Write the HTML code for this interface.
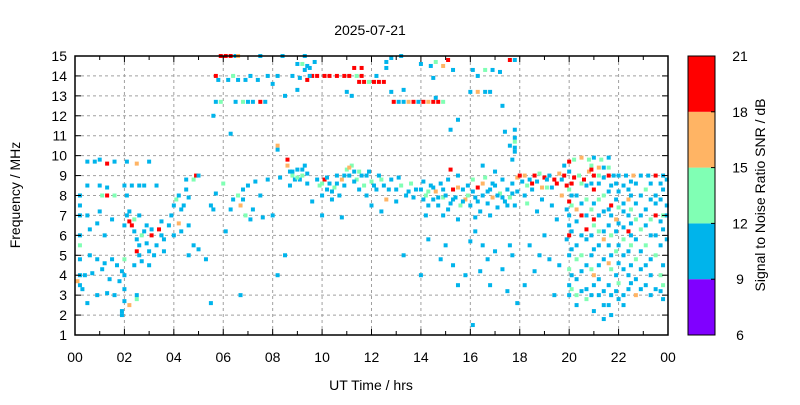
<!DOCTYPE html>
<html><head><meta charset="utf-8"><style>
body{margin:0;background:#fff;}
svg text{font-family:"Liberation Sans",sans-serif;fill:#000;}
</style></head><body>
<svg id="chart" width="800" height="400" xmlns="http://www.w3.org/2000/svg">
<rect width="800" height="400" fill="#fff"/>
<text x="370" y="35" font-size="14" text-anchor="middle">2025-07-21</text>
<g id="grid"></g>
<g id="marks"></g>
<g id="axes"></g>
<g id="cbar"></g>
<text x="371" y="390" font-size="14" text-anchor="middle">UT Time / hrs</text>
<text x="20" y="195" font-size="14" text-anchor="middle" transform="rotate(-90 20 195)">Frequency / MHz</text>
<text x="765" y="195" font-size="14" text-anchor="middle" transform="rotate(-90 765 195)">Signal to Noise Ratio SNR / dB</text>
</svg>
<script>
const xTickLabels=["00","02","04","06","08","10","12","14","16","18","20","22","00"];
const yTicks=[1,2,3,4,5,6,7,8,9,10,11,12,13,14,15];
const cbarTicks=[6,9,12,15,18,21];
const points=[
[0.2,3.5,10],[0.2,4,10],[0.2,4.8,10],[0.2,5.5,13],[0.2,6,10],[0.2,7,10],[0.2,7.5,10],[0.2,8,10],[0.1,3.7,16],[0.3,3.3,10],
[0.5,9.7,10],[0.8,9.7,10],[1.0,9.8,10],[1.3,9.6,19],[1.6,9.7,10],[2.1,9.7,10],[2.5,9.6,16],[3.0,9.7,10],
[0.5,8.5,10],[1.0,8.5,10],[1.3,8.4,10],[2.0,8.5,10],[2.3,8.5,10],[2.6,8.5,10],[2.8,8.5,10],[3.3,8.5,10],
[1.1,8.0,13],[1.3,8.0,19],[1.6,8.0,13],[2.1,8,10],[0.5,7.0,10],[1.0,7.2,10],[0.9,6.6,10],[0.6,6.3,10],[1.5,6.8,10],[1.2,6.0,10],
[0.6,5.0,10],[0.9,4.8,10],[1.2,4.6,10],[1.5,4.8,10],[1.7,4.5,10],[1.9,4.2,10],[1.8,3.7,10],[2.0,3.3,10],[1.6,3.0,10],[1.3,3.1,10],[0.9,3.0,10],[0.5,2.6,10],[1.9,2.2,10],[1.9,2.0,10],[2.0,2.7,10],[2.2,2.5,16],[2.5,2.8,13],[2.5,3.0,10],
[0.4,4.0,10],[0.7,4.1,10],[1.1,4.3,10],[1.4,3.8,10],[2.0,4.0,10],[2.0,4.8,13],[2.4,4.5,10],
[2.0,6.5,10],[2.1,7.0,10],[2.2,7.2,10],[2.3,6.5,19],[2.4,6.8,13],[2.4,6.2,10],[2.5,5.8,10],[2.5,5.2,19],[2.6,5.0,10],[2.6,5.5,10],[2.7,6.0,13],[2.7,4.7,10],[2.8,6.2,10],[2.9,5.6,10],[2.9,6.5,10],[3.0,5.2,10],[3.1,6.0,19],[3.1,6.3,10],[3.2,5.0,10],[3.3,5.5,10],[3.4,6.3,19],[3.5,6.0,10],[3.6,5.2,10],[3.6,5.8,10],[3.8,6.5,10],[3.9,7.0,10],[4.0,7.5,10],[4.0,6.0,10],[4.1,7.8,13],[4.2,8.0,10],[4.2,6.6,16],[4.3,7.3,10],[4.4,7.5,10],[4.3,6.2,10],[4.5,8.3,10],[4.6,6.5,10],[4.6,5.0,10],[4.8,5.5,10],[4.6,7.9,10],[4.8,8.8,13],[4.9,9.0,19],[5.0,9.0,10],[5.3,4.8,10],[5.0,5.3,10],[4.5,8.8,10],
[2.2,6.7,19],[2.6,7.0,10],[3.5,6.7,10],[3.0,4.5,10],
[5.9,15,19],[6.1,15,19],[6.3,15,19],[6.5,15,10],[6.6,15,16],[7.5,15,10],[8.4,15,10],[9.3,15,10],
[9.0,14.6,10],[9.2,14.6,13],[9.4,14.5,10],[9.7,14.7,10],[9.3,14.3,10],[9.5,14.4,10],
[5.7,14,19],[5.8,13.8,10],[6.2,13.8,10],[6.4,14,13],[6.6,13.8,10],[6.9,13.8,10],[7.1,14,10],[7.4,13.8,10],[7.8,14,10],[8.2,14,10],[8.8,14,10],[9.1,13.9,10],[9.4,13.8,19],[9.6,14,19],[9.8,14,19],[10.1,14,19],[10.3,14,19],[10.6,14,19],[10.9,14,19],[11.1,14,19],[11.4,14,13],[11.6,14,19],[9.5,14.0,10],[8.0,13.6,10],[9.0,13.3,10],
[5.7,12.7,10],[5.9,12.7,13],[6.5,12.7,10],[6.8,12.7,13],[7.0,12.7,10],[7.2,12.7,10],[7.5,12.7,19],[7.7,12.7,10],[8.5,13.0,10],
[5.6,12,10],[6.3,11.1,10],[8.2,10.5,16],[8.2,10.3,10],[6.0,8.6,13],[5.7,8.1,10],[5.5,7.5,10],[5.6,7.3,10],[5.5,2.6,10],
[6.1,6.2,10],[6.3,7.3,10],[6.4,7.8,10],[6.6,8.0,13],[6.7,7.5,16],[6.8,7.8,10],[6.8,8.3,10],[6.9,7.0,13],[7.0,8.5,10],[7.1,6.8,10],[7.2,7.3,10],[7.5,8.0,10],[7.3,8.7,10],[7.6,6.9,10],[8.0,7.0,10],[8.2,4.0,10],[6.7,3.0,10],[8.3,8.9,10],[8.5,5.0,10],[7.8,8.8,10],
[8.6,9.8,19],[8.6,9.5,16],[8.7,9.2,10],[8.8,9.0,13],[8.9,8.8,10],[9.0,9.3,10],[9.1,8.8,10],[9.2,9.0,13],[9.3,9.5,10],[9.4,8.6,10],[8.7,8.5,10],
[9.8,8.8,10],[9.9,8.5,13],[10.0,8.0,10],[10.1,8.8,19],[10.2,8.3,10],[10.3,8.6,10],[10.4,7.8,10],[10.5,8.4,13],[10.6,9.0,10],[10.7,8.0,10],[10.8,8.8,16],[10.9,8.5,10],[11.0,9.3,13],[11.1,9.0,10],[11.2,9.5,13],[11.3,9.2,10],[11.4,8.8,13],[11.5,8.3,10],[11.6,9.0,10],[11.7,8.5,13],[11.8,8.0,10],[11.9,9.2,10],[12.0,8.7,13],[12.2,8.3,10],[12.3,9.0,10],[12.5,8.5,10],[12.6,7.8,16],[12.8,8.8,10],[13.0,8.3,10],[13.2,8.5,13],[13.4,8.0,10],[13.6,8.6,13],[13.8,8.3,10],[10.0,7.0,10],[10.8,6.9,10],[9.6,7.7,10],[12.0,7.5,10],[12.4,7.2,10],[13.0,7.7,10],
[14.0,8.3,10],[14.1,7.8,10],[14.2,8.0,13],[14.3,7.5,10],[14.4,8.5,10],[14.5,7.8,10],[14.6,8.2,16],[14.7,7.5,10],[14.8,8.6,10],[14.9,7.9,13],[15.0,8.0,10],[15.1,8.8,10],[15.2,7.6,10],[15.3,8.3,19],[15.4,7.9,10],[15.5,9.0,10],[15.6,7.5,13],[15.7,8.3,10],[15.8,7.8,16],[15.9,8.5,10],[16.0,7.5,10],[16.1,8.8,13],[16.2,7.9,10],[16.3,8.4,19],[16.4,7.2,10],[16.5,8.0,10],[16.6,8.9,13],[16.7,7.6,10],[16.8,8.3,10],[16.9,7.9,16],[17.0,8.5,10],[17.1,7.4,10],[17.2,8.1,13],[17.3,8.8,10],[17.4,7.7,10],[17.5,8.3,10],[17.6,7.9,13],[17.7,8.6,10],[17.8,7.5,10],[17.9,8.9,16],[14.2,7.0,10],[14.9,7.0,10],[15.5,6.8,10],[16.2,6.9,10],[16.8,7.0,10],[15.2,9.3,19],[16.5,9.5,10],[17.0,9.2,10],
[12.9,12.7,19],[13.1,12.7,10],[13.3,12.7,10],[13.5,12.7,16],[13.7,12.7,19],[13.9,12.7,10],[14.1,12.7,19],[14.3,12.7,16],[14.5,12.7,19],[14.7,12.7,19],[14.9,12.7,13],[14.6,12.9,10],
[11.5,13.7,19],[11.7,13.7,19],[11.9,13.7,13],[12.1,13.7,19],[12.3,13.7,19],[12.5,13.7,19],[11.3,14.4,19],[11.6,14.4,19],[12.6,14.4,10],[12.8,14.9,10],[13.2,15,10],[12.6,14.7,10],[12.2,14.0,10],[13.3,13.3,10],[11.0,13.2,10],[11.2,13.0,10],[12.8,13.2,10],
[14.0,14.6,10],[14.4,14.5,10],[14.6,14.7,13],[14.9,14.5,16],[15.1,14.8,19],[15.3,14.3,10],[15.5,11.8,10],[15.2,11.3,10],[14.5,13.9,10],
[16.1,14.3,10],[16.3,14.0,10],[16.6,14.3,13],[16.9,14.3,10],[17.2,14.2,10],[17.6,14.8,19],[17.8,14.8,10],[16.0,13.2,10],[16.3,13.2,16],[16.6,13.2,10],[16.8,13.2,10],[17.3,12.5,10],[17.4,11.2,10],
[17.8,10.2,10],[17.8,10.4,10],[17.8,10.7,13],[17.8,10.9,10],[17.8,11.3,10],[17.7,9.8,10],[17.6,10.5,10],
[14.3,5.8,10],[14.8,4.8,10],[15.0,5.5,10],[15.3,4.5,10],[15.8,4.0,10],[16.0,5.7,10],[16.2,6.2,10],[16.5,5.5,10],[16.7,4.8,10],[16.8,3.5,10],[17.0,5.2,10],[17.3,4.3,10],[17.5,3.2,10],[17.7,5.0,10],[17.9,2.6,10],[16.1,1.5,10],[15.5,3.5,10],[14.0,4.0,10],[13.3,5.0,10],[16.4,4.2,10],[17.6,5.5,10],
[18.0,9.0,19],[18.2,9.0,16],[18.4,8.8,10],[18.6,9.0,19],[18.8,9.1,13],[19.0,8.9,19],[19.2,9.0,10],[19.4,8.8,19],[19.6,9.1,16],[19.8,9.0,19],[20.0,9.2,10],[20.2,8.9,19],[20.4,9.0,13],[20.6,8.8,19],[20.8,9.2,16],[21.0,9.0,19],[21.2,9.0,13],[21.4,8.9,10],[21.6,9.0,19],[21.8,9.0,10],[22.0,9.0,10],[22.3,9.0,10],[22.6,9.0,16],[22.9,9.0,10],[23.2,9.0,10],[23.5,9.0,19],[23.8,9.0,10],
[20.2,9.8,13],[20.5,9.9,16],[20.8,9.8,13],[21.0,9.9,10],[21.3,9.8,13],[21.6,9.9,10],[19.8,9.5,10],[20.0,9.7,19],[20.9,9.5,13],[21.4,9.4,10],
[18.2,8.0,10],[18.3,7.6,13],[18.5,8.3,10],[18.7,7.2,10],[18.9,7.8,10],[19.1,8.4,13],[19.3,7.5,10],[19.5,6.8,10],[19.7,8.0,16],[19.9,7.3,10],[18.4,5.5,10],[18.8,5.0,10],[19.0,6.0,10],[19.2,4.8,10],[19.6,4.5,10],[19.9,5.8,10],[18.6,4.2,10],[19.4,3.0,10],[18.2,3.5,10],
[20.0,8.3,13],[20.0,7.7,19],[20.0,7.0,10],[20.0,6.5,10],[20.0,6.0,19],[20.0,5.0,10],[20.0,4.3,13],[20.0,3.5,10],[20.0,3.0,10],
[20.3,8.0,10],[20.3,7.3,16],[20.3,6.7,10],[20.3,5.5,10],[20.3,4.8,13],[20.3,3.8,10],[20.3,3.0,13],[20.3,2.5,10],
[20.7,8.5,10],[20.7,7.8,13],[20.7,7.0,10],[20.7,6.3,19],[20.7,5.8,10],[20.7,4.5,10],[20.7,3.3,10],[20.7,2.8,13],
[21.0,8.3,19],[21.0,7.6,10],[21.0,6.8,19],[21.0,6.5,13],[21.0,5.3,10],[21.0,4.0,16],[21.0,3.5,10],[21.0,2.2,10],
[21.4,8.0,13],[21.4,7.2,10],[21.4,6.2,10],[21.4,5.8,16],[21.4,4.8,10],[21.4,3.2,10],[21.4,2.5,10],[21.4,1.8,10],
[21.7,8.5,10],[21.7,7.5,19],[21.7,7.0,10],[21.7,6.0,13],[21.7,5.0,10],[21.7,4.3,13],[21.7,3.0,10],[21.7,2.0,10],
[22.0,8.2,10],[22.0,7.4,13],[22.0,6.6,10],[22.0,5.5,10],[22.0,4.6,10],[22.0,3.6,13],[22.0,2.8,10],
[22.4,8.3,10],[22.4,7.8,16],[22.4,7.0,10],[22.4,6.2,19],[22.4,5.2,10],[22.4,4.0,10],[22.4,3.3,10],
[22.7,8.6,10],[22.7,7.6,10],[22.7,6.8,13],[22.7,5.8,10],[22.7,4.8,13],[22.7,3.8,10],[22.7,3.0,16],
[23.1,8.3,13],[23.1,7.3,10],[23.1,6.5,10],[23.1,5.5,13],[23.1,4.5,10],[23.1,3.5,10],
[23.5,8.0,10],[23.5,7.6,10],[23.5,7.0,19],[23.5,6.0,10],[23.5,5.0,13],[23.5,3.3,10],
[23.8,8.3,10],[23.8,7.0,13],[23.8,6.3,10],[23.8,4.5,10],[23.8,3.5,13],[23.8,2.8,10],
[8.8,9.2,10],[9.0,8.9,13],[9.2,9.3,10],[9.4,9.1,10],[10.0,8.6,13],[10.2,8.9,10],[10.4,8.2,10],[10.6,8.6,10],[10.9,9.0,10],[11.1,9.4,16],[11.3,8.7,10],[11.5,9.2,13],[11.8,9.0,10],[12.1,8.5,10],[12.4,8.8,13],[12.7,8.3,10],[13.1,8.9,10],[13.5,8.2,10],[13.7,7.9,10],
[14.1,8.7,10],[14.3,8.2,13],[14.5,8.4,10],[14.7,7.9,10],[14.9,8.3,10],[15.1,7.3,10],[15.3,7.8,10],[15.5,8.4,16],[15.7,7.7,10],[15.9,8.0,13],[16.1,8.2,10],[16.3,7.7,10],[16.5,8.6,16],[16.7,8.2,10],[16.9,8.6,10],[17.1,8.0,10],[17.3,7.9,10],[17.5,7.5,10],[17.7,8.1,10],[17.9,8.2,10],
[18.1,8.7,10],[18.3,8.5,13],[18.5,8.6,19],[18.7,8.7,10],[18.9,8.4,16],[19.1,8.8,10],[19.3,8.4,10],[19.5,8.6,19],[19.7,8.8,10],[19.9,8.5,19],
[20.1,8.6,19],[20.1,8.0,10],[20.1,7.5,13],[20.1,6.2,10],[20.1,5.3,10],[20.1,4.0,10],[20.1,3.3,13],
[20.5,8.6,13],[20.5,7.6,10],[20.5,7.0,19],[20.5,6.0,10],[20.5,5.0,13],[20.5,4.2,10],[20.5,3.2,10],
[20.9,9.3,19],[20.9,8.6,10],[20.9,7.3,13],[20.9,6.0,10],[20.9,5.0,10],[20.9,4.3,13],[20.9,3.0,10],
[21.2,9.4,16],[21.2,8.6,10],[21.2,7.8,13],[21.2,7.0,10],[21.2,6.2,13],[21.2,5.5,10],[21.2,4.5,10],[21.2,3.8,10],[21.2,3.0,10],
[21.6,9.4,13],[21.6,8.2,10],[21.6,7.3,10],[21.6,6.5,10],[21.6,5.5,10],[21.6,4.6,16],[21.6,3.5,10],[21.6,2.5,10],
[21.9,8.6,10],[21.9,7.8,10],[21.9,6.8,16],[21.9,6.2,10],[21.9,5.2,13],[21.9,4.0,10],[21.9,3.2,10],
[22.2,8.5,10],[22.2,7.6,10],[22.2,7.2,10],[22.2,6.4,10],[22.2,5.8,13],[22.2,5.0,10],[22.2,4.3,10],[22.2,3.0,10],[22.2,2.5,10],
[22.5,8.7,10],[22.5,8.0,10],[22.5,7.3,13],[22.5,6.6,10],[22.5,6.0,10],[22.5,5.5,13],[22.5,4.5,10],[22.5,3.6,10],
[22.9,8.0,10],[22.9,7.0,10],[22.9,6.3,13],[22.9,5.2,10],[22.9,4.3,10],[22.9,3.3,10],
[23.3,8.6,10],[23.3,7.8,10],[23.3,6.8,13],[23.3,6.0,10],[23.3,4.8,10],[23.3,4.0,10],[23.3,3.0,10],
[23.7,8.6,10],[23.7,7.8,10],[23.7,6.7,10],[23.7,5.5,10],[23.7,4.0,13],[23.7,3.2,10],
[23.95,8.8,10],[23.95,7.5,10],[23.95,7.0,10],[23.95,5.8,10]
];
const NS="http://www.w3.org/2000/svg";
const L=75,R=668,T=56,B=335;
const xs=t=>L+(t/24)*(R-L);
const ys=f=>B-((f-1)/14)*(B-T);
function colorOf(s){if(s<9)return"#8000ff";if(s<12)return"#00b4eb";if(s<15)return"#80ffb4";if(s<18)return"#ffb464";return"#ff0000";}
function mk(tag,attrs,parent){const e=document.createElementNS(NS,tag);for(const k in attrs)e.setAttribute(k,attrs[k]);parent.appendChild(e);return e;}
const grid=document.getElementById('grid'),marks=document.getElementById('marks'),axes=document.getElementById('axes'),cbar=document.getElementById('cbar');
xTickLabels.forEach((lab,i)=>{const x=xs(i*2);
 if(i>0&&i<xTickLabels.length-1){const g=mk('line',{x1:x,x2:x,y1:T,y2:B,stroke:'#a0a0a0','stroke-dasharray':'3,3'},grid);}
 const t=mk('text',{x:x,y:B+27,'font-size':14,'text-anchor':'middle'},axes);t.textContent=lab;
 
 
});
for(let h=0;h<=24;h++){const x=xs(h);const len=h%2===0?6:4;mk('line',{x1:x,x2:x,y1:B,y2:B-len,stroke:'#000'},axes);mk('line',{x1:x,x2:x,y1:T,y2:T+len,stroke:'#000'},axes);}
yTicks.forEach(f=>{const y=ys(f);
 if(f>1&&f<15){const g=mk('line',{x1:L,x2:R,y1:y,y2:y,stroke:'#a0a0a0','stroke-dasharray':'3,3'},grid);}
 mk('line',{x1:L,x2:L+6,y1:y,y2:y,stroke:'#000'},axes);mk('line',{x1:R,x2:R-6,y1:y,y2:y,stroke:'#000'},axes);
 const t=mk('text',{x:L-8,y:y+5,'font-size':14,'text-anchor':'end'},axes);t.textContent=f;
 
 
});
points.forEach(p=>{const r=mk('rect',{x:xs(p[0])-2,y:ys(p[1])-2,width:4,height:4,fill:colorOf(p[2])},marks);
 
 
});
const frame=mk('rect',{x:L,y:T,width:R-L,height:B-T,fill:'none',stroke:'#000','stroke-width':1.5},axes);


const CX=688,CW=27,cmin=6,cmax=21;const cy=v=>B-(v-cmin)/(cmax-cmin)*(B-T);
for(let i=0;i<cbarTicks.length-1;i++){const a=cbarTicks[i],b=cbarTicks[i+1];
 const r=mk('rect',{x:CX,y:cy(b),width:CW,height:cy(a)-cy(b),fill:colorOf(a+0.5)},cbar);
 
 
}
mk('rect',{x:CX,y:T,width:CW,height:B-T,fill:'none',stroke:'#000','stroke-width':1},cbar);
cbarTicks.forEach(v=>{const y=cy(v);mk('line',{x1:CX+CW,x2:CX+CW-4,y1:y,y2:y,stroke:'#000'},cbar);
 const t=mk('text',{x:CX+CW+25,y:y+5,'font-size':14,'text-anchor':'middle'},cbar);t.textContent=v;
 
 
});
</script>
</body></html>
